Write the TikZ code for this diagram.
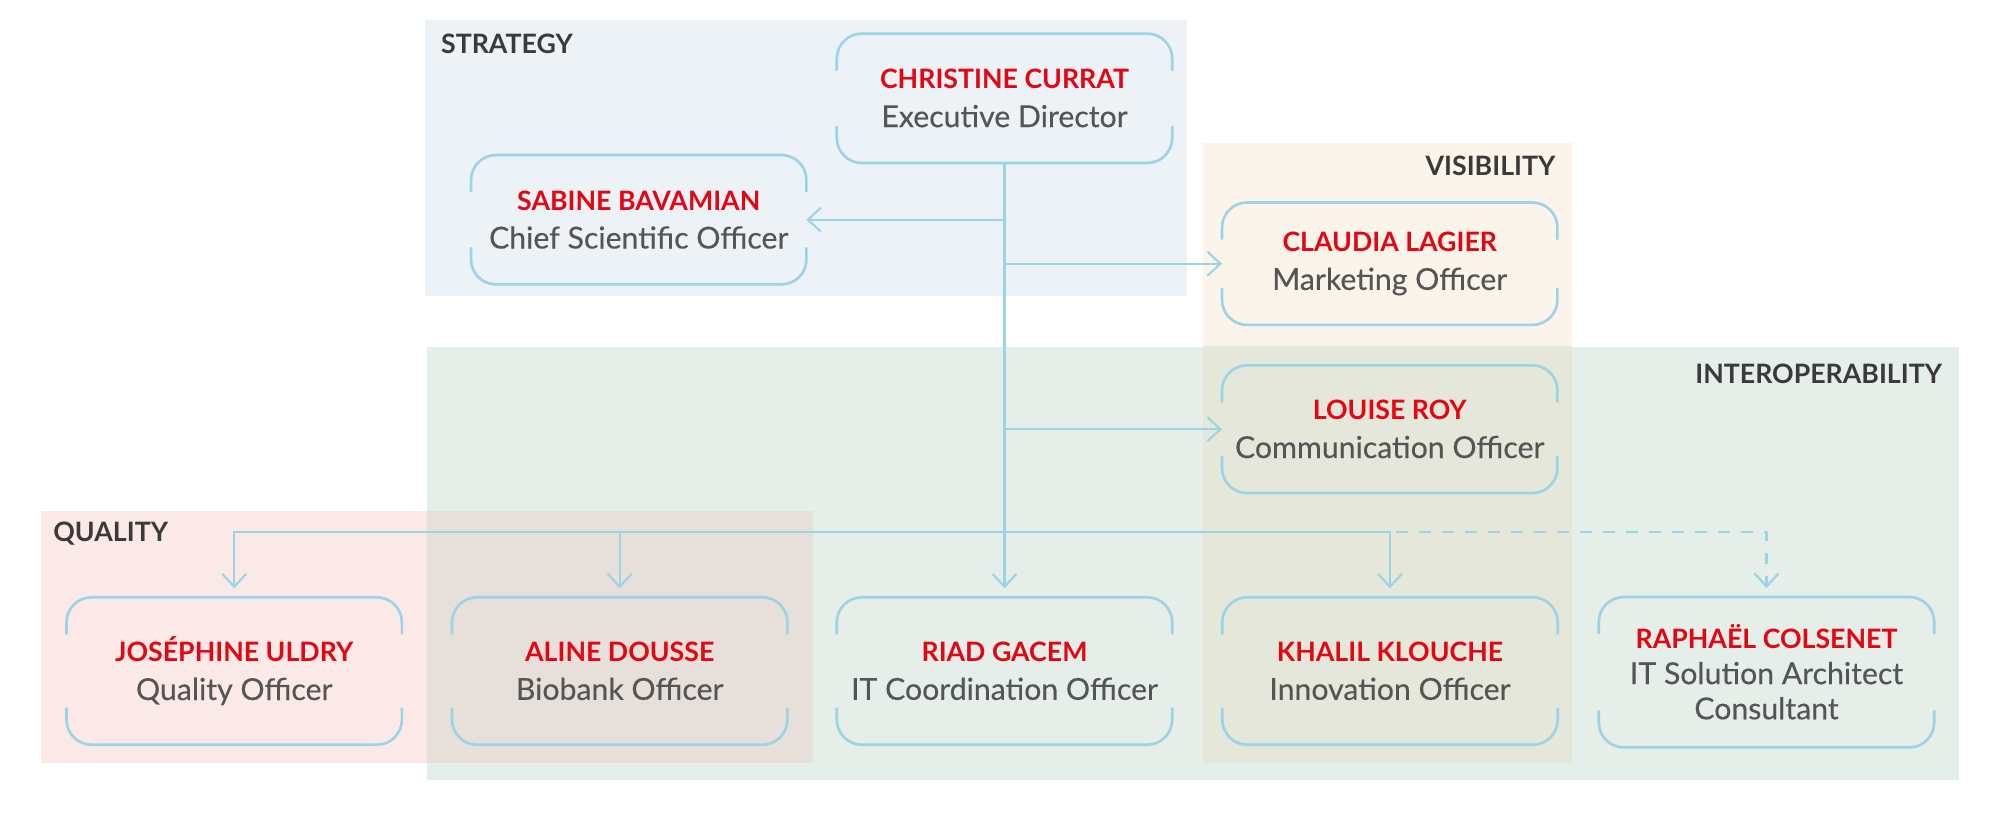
\documentclass[tikz,border=0pt]{standalone}
\usepackage{fontspec}
\setmainfont{Lato}
\newfontfamily\titlefont{Lato}[FakeBold=0.3]
\usetikzlibrary{arrows.meta}

\definecolor{linkblue}{HTML}{9AD4E5}
\definecolor{namered}{HTML}{E30613}
\definecolor{titlegray}{HTML}{555555}
\definecolor{labelgray}{HTML}{3A3A3A}
\definecolor{bgstrat}{HTML}{EDF2F6}
\definecolor{bgvis}{HTML}{FBF4EA}
\definecolor{bginter}{HTML}{E5EEE8}
\definecolor{bgqual}{HTML}{FBE9E7}
\definecolor{ovvis}{HTML}{E5E7DA}
\definecolor{ovqual}{HTML}{E6DFDA}

\newcommand{\pname}[1]{{\normalfont\bfseries\fontsize{7.6}{10.9}\selectfont\color{namered}#1}}

\begin{document}
\begin{tikzpicture}[
    link/.style={draw=linkblue, line width=0.6pt,
        -{Straight Barb[length=1.3mm,width=2.4mm]}},
    droplink/.style={link, shorten >=0.9mm},
    dashlink/.style={droplink, dash pattern=on 1.15mm off 1.15mm},
    person/.style={minimum width=3.34cm, inner sep=0pt, align=center,
        text=titlegray, font=\titlefont\fontsize{8.6}{10.9}\selectfont},
    outline/.style={draw=linkblue, line width=0.75pt, rounded corners=0.25cm},
    area/.style={font=\bfseries\fontsize{7.6}{9}\selectfont, text=labelgray, inner sep=0pt}
]
    \useasboundingbox (0,0) rectangle (20,-8.13);

    % areas
    \fill[bgstrat] (4.25,-0.20) rectangle (11.867,-2.957);
    \fill[bginter] (4.267,-3.467) rectangle (19.59,-7.80);
    \fill[bgvis] (12.027,-1.433) rectangle (15.717,-7.627);
    \fill[bgqual] (0.41,-5.11) rectangle (8.125,-7.627);
    \begin{scope}
        \clip (4.267,-3.467) rectangle (19.59,-7.80);
        \fill[ovvis] (12.027,-1.433) rectangle (15.717,-7.627);
        \fill[ovqual] (0.41,-5.11) rectangle (8.125,-7.627);
    \end{scope}

    \node[area, anchor=base west] (strat) at (4.404,-0.533) {STRATEGY};
    \node[area, anchor=base east] (visib) at (15.56,-1.75) {VISIBILITY};
    \node[area, anchor=base east] (inter) at (19.427,-3.833) {INTEROPERABILITY};
    \node[area, anchor=base west] (qual) at (0.527,-5.417) {QUALITY};

    % people
    \node[person, minimum height=1.28cm] (curr) at (10.045,-0.983)
        {\pname{CHRISTINE CURRAT}\\Executive Director};
    \node[person, minimum height=1.28cm] (bava) at (6.387,-2.197)
        {\pname{SABINE BAVAMIAN}\\Chief Scientific Officer};
    \node[person, minimum height=1.21cm] (lagi) at (13.897,-2.637)
        {\pname{CLAUDIA LAGIER}\\Marketing Officer};
    \node[person, minimum height=1.263cm] (roy) at (13.897,-4.292)
        {\pname{LOUISE ROY}\\Communication Officer};
    \node[person, minimum height=1.46cm] (uldr) at (2.342,-6.71)
        {\pname{JOSÉPHINE ULDRY}\\Quality Officer};
    \node[person, minimum height=1.46cm] (dous) at (6.197,-6.71)
        {\pname{ALINE DOUSSE}\\Biobank Officer};
    \node[person, minimum height=1.46cm] (gace) at (10.045,-6.71)
        {\pname{RIAD GACEM}\\IT Coordination Officer};
    \node[person, minimum height=1.46cm] (klou) at (13.90,-6.71)
        {\pname{KHALIL KLOUCHE}\\Innovation Officer};
    \node[person, minimum height=1.49cm, font=\titlefont\fontsize{8.6}{10}\selectfont] (cols) at (17.665,-6.722)
        {\pname{RAPHAËL COLSENET}\\IT Solution Architect\\Consultant};

    \foreach \n in {curr,bava,lagi,roy,uldr,dous,gace,klou,cols}{
        \draw[outline] ([yshift=-0.37cm]\n.north west) -- (\n.north west)
            -- (\n.north east) -- ([yshift=-0.37cm]\n.north east);
        \draw[outline] ([yshift=0.37cm]\n.south west) -- (\n.south west)
            -- (\n.south east) -- ([yshift=0.37cm]\n.south east);
    }

    % links
    \coordinate (bus) at (10.045,-5.323);
    \draw[droplink] (curr.south) -- (gace.north);
    \draw[link] (curr.south |- bava) -- (bava.east);
    \draw[link] (curr.south |- lagi) -- (lagi.west);
    \draw[link] (curr.south |- roy) -- (roy.west);

    \draw[droplink] (bus -| dous.north) -- (bus -| uldr.north) -- (uldr.north);
    \draw[droplink] (bus -| dous.north) -- (bus -| klou.north) -- (klou.north);
    \draw[droplink] (bus -| dous.north) -- (dous.north);
    \draw[dashlink] ([xshift=0.6mm]bus -| klou.north) -- (bus -| cols.north) -- (cols.north);
\end{tikzpicture}
\end{document}
